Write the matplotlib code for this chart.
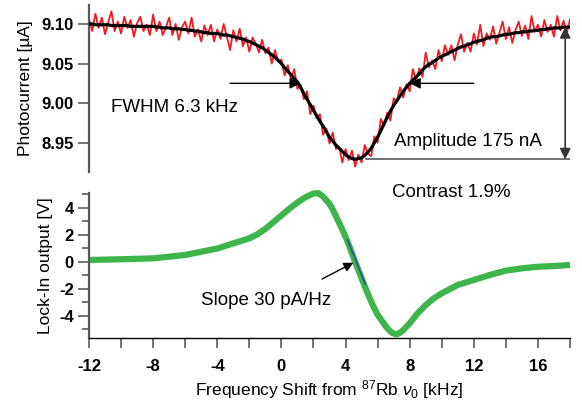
import matplotlib
matplotlib.use('Agg')
import matplotlib.pyplot as plt
import numpy as np
from matplotlib.ticker import MultipleLocator, FormatStrFormatter

plt.rcParams['font.family'] = ['Liberation Sans', 'DejaVu Sans']
plt.rcParams['mathtext.fontset'] = 'custom'
plt.rcParams['mathtext.rm'] = 'Liberation Sans'
plt.rcParams['mathtext.it'] = 'Liberation Sans:italic'
plt.rcParams['axes.unicode_minus'] = False

# frequency shift grid of the photocurrent trace [kHz]
freq_start, freq_stop = -12, 18

# measured photocurrent [uA], 0.2 kHz steps
photocurrent = [
    9.106, 9.091, 9.113, 9.095, 9.108, 9.087, 9.102, 9.116, 9.091, 9.103,
    9.088, 9.109, 9.095, 9.105, 9.084, 9.101, 9.109, 9.091, 9.099, 9.086,
    9.112, 9.091, 9.103, 9.086, 9.096, 9.108, 9.086, 9.100, 9.080, 9.096,
    9.103, 9.088, 9.108, 9.084, 9.093, 9.078, 9.098, 9.086, 9.099, 9.078,
    9.093, 9.081, 9.100, 9.084, 9.067, 9.092, 9.078, 9.094, 9.072, 9.083,
    9.065, 9.083, 9.075, 9.064, 9.080, 9.063, 9.070, 9.050, 9.067, 9.052,
    9.055, 9.035, 9.048, 9.030, 9.043, 9.018, 9.023, 9.005, 9.015, 8.986,
    8.997, 8.981, 8.986, 8.960, 8.968, 8.949, 8.963, 8.942, 8.945, 8.925,
    8.942, 8.928, 8.940, 8.920, 8.935, 8.925, 8.947, 8.936, 8.933, 8.958,
    8.950, 8.980, 8.971, 8.988, 8.978, 9.006, 9.002, 9.020, 9.007, 9.024,
    9.015, 9.043, 9.028, 9.044, 9.033, 9.064, 9.045, 9.054, 9.043, 9.067,
    9.053, 9.073, 9.061, 9.073, 9.054, 9.074, 9.087, 9.065, 9.076, 9.065,
    9.088, 9.074, 9.099, 9.072, 9.088, 9.080, 9.097, 9.075, 9.089, 9.103,
    9.081, 9.096, 9.076, 9.092, 9.103, 9.085, 9.098, 9.081, 9.110, 9.090,
    9.099, 9.084, 9.105, 9.090, 9.099, 9.084, 9.110, 9.092, 9.104, 9.089,
    9.106,
]

# lorentzian fit of the photocurrent [uA], same grid
photocurrent_fit = [
    9.100, 9.100, 9.099, 9.099, 9.099, 9.099, 9.099, 9.098, 9.098, 9.098,
    9.098, 9.098, 9.098, 9.097, 9.097, 9.097, 9.097, 9.097, 9.097, 9.097,
    9.097, 9.096, 9.096, 9.095, 9.095, 9.095, 9.094, 9.094, 9.094, 9.093,
    9.093, 9.092, 9.092, 9.091, 9.091, 9.090, 9.089, 9.089, 9.088, 9.088,
    9.088, 9.087, 9.086, 9.086, 9.085, 9.084, 9.083, 9.082, 9.081, 9.079,
    9.078, 9.076, 9.074, 9.072, 9.070, 9.067, 9.064, 9.061, 9.058, 9.054,
    9.050, 9.045, 9.040, 9.036, 9.031, 9.027, 9.020, 9.012, 9.005, 8.998,
    8.991, 8.984, 8.977, 8.971, 8.964, 8.957, 8.952, 8.947, 8.943, 8.939,
    8.935, 8.932, 8.930, 8.929, 8.930, 8.931, 8.934, 8.938, 8.943, 8.950,
    8.957, 8.965, 8.974, 8.982, 8.990, 8.997, 9.003, 9.009, 9.015, 9.020,
    9.025, 9.029, 9.033, 9.037, 9.042, 9.046, 9.049, 9.051, 9.054, 9.057,
    9.059, 9.061, 9.063, 9.065, 9.067, 9.069, 9.071, 9.072, 9.074, 9.075,
    9.077, 9.078, 9.079, 9.080, 9.082, 9.083, 9.084, 9.084, 9.085, 9.086,
    9.087, 9.087, 9.088, 9.089, 9.089, 9.090, 9.090, 9.091, 9.091, 9.092,
    9.092, 9.093, 9.093, 9.094, 9.094, 9.095, 9.095, 9.095, 9.096, 9.096,
    9.096,
]

# lock-in (dispersive) signal
lockin_freq = [-12, -10, -8, -6, -5, -4, -3, -2, -1.5, -1, -0.5, 0, 0.5, 1,
               1.5, 2, 2.3, 2.6, 3, 3.2, 3.5, 3.8, 4.1, 4.4, 4.7, 5.0, 5.3,
               5.7, 6.0, 6.3, 6.6, 6.9, 7.2, 7.5, 8, 8.5, 9, 9.5, 10, 11, 12,
               13, 14, 15, 16, 17, 18]
lockin_volt = [0.15, 0.2, 0.27, 0.52, 0.76, 1.0, 1.38, 1.75, 2.05, 2.45,
               2.95, 3.45, 3.95, 4.4, 4.8, 5.07, 5.1, 4.85, 4.3, 3.9, 3.15,
               2.4, 1.6, 0.65, -0.3, -1.2, -2.1, -3.2, -3.9, -4.42, -4.9,
               -5.25, -5.36, -5.16, -4.54, -3.8, -3.19, -2.7, -2.32, -1.7,
               -1.33, -0.96, -0.64, -0.47, -0.35, -0.3, -0.22]

# slope segment at the zero crossing
slope_freq = [4.13, 5.23]
slope_volt = [1.63, -1.63]

# annotation levels
fwhm_level = 9.025
fwhm_left = (-3.2, 1.2)
fwhm_right = (12.0, 8.0)
amp_top, amp_bottom = 9.096, 8.929
amp_freq = 17.7

red = '#ED1C24'
green = '#3DB54A'
blue = '#2F4FA0'
spine_grey = '#5a5a5a'


def style_axis(ax):
    for s in ['top', 'right', 'bottom']:
        ax.spines[s].set_visible(False)
    ax.spines['left'].set_color(spine_grey)
    ax.spines['left'].set_linewidth(1.6)
    ax.tick_params(axis='y', which='major', direction='out', length=8,
                   width=1.2, color=spine_grey, labelsize=12, pad=3)
    ax.tick_params(axis='y', which='minor', direction='out', length=5,
                   width=1.2, color=spine_grey)
    for lab in ax.get_yticklabels():
        lab.set_fontweight('bold')


def main():
    fig = plt.figure(figsize=(5.82, 4.01), dpi=100)
    ax1 = fig.add_axes([0.1529, 0.5711, 0.8265, 0.4165])
    ax2 = fig.add_axes([0.1529, 0.1571, 0.8265, 0.3616])

    x = np.linspace(freq_start, freq_stop, len(photocurrent))

    # top: photocurrent
    ax1.plot(x, photocurrent, color=red, lw=1.3, zorder=2)
    ax1.plot(x, photocurrent_fit, color='black', lw=2.3, zorder=3)
    ax1.set_xlim(freq_start, freq_stop)
    ax1.set_ylim(8.913, 9.124)
    ax1.set_xticks([])
    ax1.set_yticks([8.95, 9.00, 9.05, 9.10])
    ax1.yaxis.set_major_formatter(FormatStrFormatter('%.2f'))
    style_axis(ax1)
    ax1.set_ylabel('Photocurrent [µA]', fontsize=12.5, labelpad=6)

    arrow = dict(arrowstyle='-|>', color='black', lw=1.0,
                 mutation_scale=16, shrinkA=0, shrinkB=0)
    ax1.annotate('', xy=(fwhm_left[1], fwhm_level),
                 xytext=(fwhm_left[0], fwhm_level), arrowprops=arrow)
    ax1.annotate('', xy=(fwhm_right[1], fwhm_level),
                 xytext=(fwhm_right[0], fwhm_level), arrowprops=arrow)
    ax1.plot([5.3, freq_stop], [amp_bottom, amp_bottom], color=spine_grey, lw=1.2)
    ax1.annotate('', xy=(amp_freq, amp_top), xytext=(amp_freq, amp_bottom),
                 arrowprops=dict(arrowstyle='<|-|>', color='#333333', lw=1.2,
                                 mutation_scale=16, shrinkA=0, shrinkB=0),
                 annotation_clip=False)
    ax1.text(-10.6, 8.994, 'FWHM 6.3 kHz', fontsize=13.5, va='center')
    ax1.text(7.0, 8.951, 'Amplitude 175 nA', fontsize=13.5, va='center')

    # bottom: lock-in output
    ax2.plot(lockin_freq, lockin_volt, color=green, lw=4.5,
             solid_capstyle='butt', clip_on=False, zorder=2)
    ax2.plot(slope_freq, slope_volt, color=blue, lw=1.2, zorder=3)
    ax2.set_xlim(freq_start, freq_stop)
    ax2.set_ylim(-5.63, 5.11)
    ax2.xaxis.set_major_locator(MultipleLocator(4))
    ax2.xaxis.set_minor_locator(MultipleLocator(2))
    ax2.yaxis.set_major_locator(MultipleLocator(2))
    ax2.yaxis.set_minor_locator(MultipleLocator(1))
    style_axis(ax2)
    ax2.spines['bottom'].set_visible(True)
    ax2.spines['bottom'].set_color('black')
    ax2.spines['bottom'].set_linewidth(1.0)
    ax2.tick_params(axis='x', which='both', direction='out', length=7,
                    width=1.2, color=spine_grey, labelsize=12, pad=8)
    for lab in ax2.get_xticklabels():
        lab.set_fontweight('bold')
    ax2.set_ylabel('Lock-In output [V]', fontsize=12.5, labelpad=4)
    ax2.set_xlabel(r'Frequency Shift from $^{87}$Rb $\nu_0$ [kHz]',
                   fontsize=12.5, labelpad=3)

    ax2.annotate('', xy=(4.49, -0.05), xytext=(2.54, -1.26),
                 arrowprops=dict(arrowstyle='-|>', color='black', lw=1.0,
                                 mutation_scale=14, shrinkA=0, shrinkB=0))
    ax2.text(-5.0, -2.87, 'Slope 30 pA/Hz', fontsize=13.5, va='center')
    fig.text(0.6735, 0.519, 'Contrast 1.9%', fontsize=13.5, va='center')

    fig.savefig('out.png', dpi=100)


if __name__ == '__main__':
    main()
